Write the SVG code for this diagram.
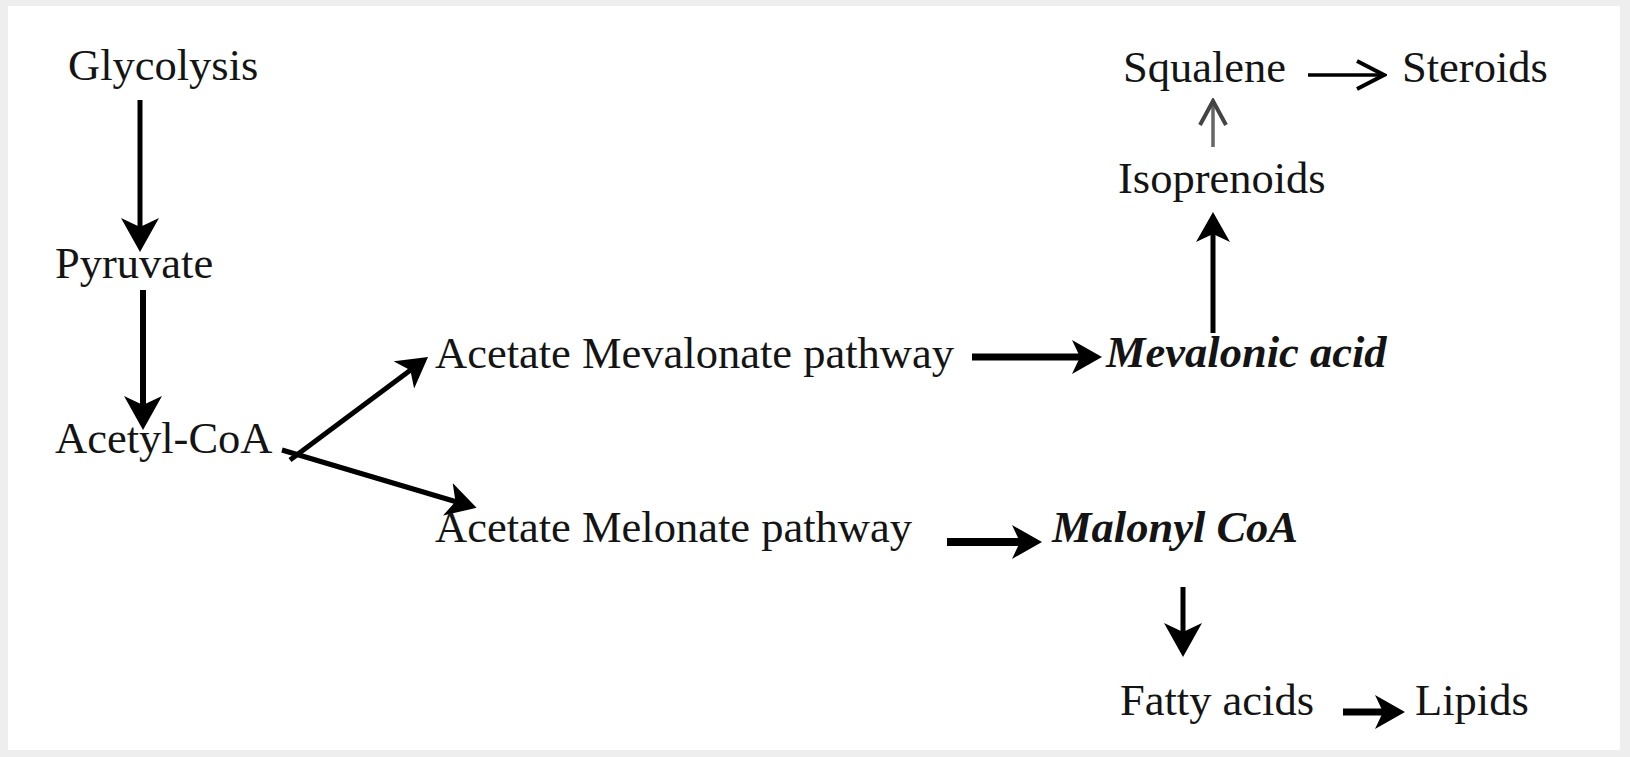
<svg xmlns="http://www.w3.org/2000/svg" width="1630" height="757" viewBox="0 0 1630 757">
<style>
.t{font-family:"Liberation Serif","Times New Roman",serif;font-size:44.5px;fill:#141414}
.bi{font-weight:bold;font-style:italic}
.c{stroke:#000;fill:none;stroke-linecap:butt}
</style>
<defs>
<marker id="hf" markerUnits="userSpaceOnUse" viewBox="0 0 30 34" markerWidth="30" markerHeight="34" refX="20" refY="17" orient="auto">
<path d="M0,0 L30,17 L0,34 L8,17 z" fill="#000"/>
</marker>
<marker id="hb" markerUnits="userSpaceOnUse" viewBox="0 0 34 38" markerWidth="34" markerHeight="38" refX="22" refY="19" orient="auto">
<path d="M0,0 L34,19 L0,38 L9,19 z" fill="#000"/>
</marker>
<marker id="ho" markerUnits="userSpaceOnUse" viewBox="0 0 32 34" markerWidth="32" markerHeight="34" refX="28" refY="17" orient="auto">
<path d="M2,3 L29,17 L2,31" fill="none" stroke="#000" stroke-width="4"/>
</marker>
<marker id="hg" markerUnits="userSpaceOnUse" viewBox="0 0 30 30" markerWidth="30" markerHeight="30" refX="26" refY="15" orient="auto">
<path d="M3,2 L27,15 L3,28" fill="none" stroke="#444" stroke-width="4"/>
</marker>
</defs>
<rect x="0" y="0" width="1630" height="757" fill="#eeeeee"/>
<rect x="8" y="6" width="1612" height="744" fill="#ffffff"/>
<g id="connectors">
<line class="c" x1="140" y1="100" x2="140" y2="240" stroke-width="5" marker-end="url(#hb)"/>
<line class="c" x1="143" y1="290" x2="143" y2="418" stroke-width="6" marker-end="url(#hb)"/>
<line class="c" x1="290" y1="460" x2="420" y2="363" stroke-width="5" marker-end="url(#hf)"/>
<line class="c" x1="282" y1="450" x2="467" y2="505" stroke-width="5" marker-end="url(#hf)"/>
<line class="c" x1="972" y1="357" x2="1092" y2="357" stroke-width="7" marker-end="url(#hf)"/>
<line class="c" x1="947" y1="542" x2="1032" y2="542" stroke-width="8" marker-end="url(#hf)"/>
<line class="c" x1="1213" y1="333" x2="1213" y2="222" stroke-width="5" marker-end="url(#hf)"/>
<line x1="1213" y1="147" x2="1213" y2="102" stroke="#666" stroke-width="3.5" marker-end="url(#hg)"/>
<line class="c" x1="1308" y1="75" x2="1383" y2="75" stroke-width="3.5" marker-end="url(#ho)"/>
<line class="c" x1="1183" y1="587" x2="1183" y2="645" stroke-width="5" marker-end="url(#hb)"/>
<line class="c" x1="1343" y1="712" x2="1395" y2="712" stroke-width="7" marker-end="url(#hf)"/>
</g>
<g id="glycolysis"><text class="t" x="68" y="80">Glycolysis</text></g>
<g id="pyruvate"><text class="t" x="55" y="278">Pyruvate</text></g>
<g id="acetylcoa"><text class="t" x="55" y="453">Acetyl-CoA</text></g>
<g id="mevalonate-pathway"><text class="t" x="435" y="368">Acetate Mevalonate pathway</text></g>
<g id="melonate-pathway"><text class="t" x="435" y="542">Acetate Melonate pathway</text></g>
<g id="mevalonic-acid"><text class="t bi" x="1106" y="367">Mevalonic acid</text></g>
<g id="malonyl-coa"><text class="t bi" x="1052" y="542">Malonyl CoA</text></g>
<g id="isoprenoids"><text class="t" x="1118" y="193">Isoprenoids</text></g>
<g id="squalene"><text class="t" x="1123" y="82">Squalene</text></g>
<g id="steroids"><text class="t" x="1402" y="82">Steroids</text></g>
<g id="fatty-acids"><text class="t" x="1120" y="715">Fatty acids</text></g>
<g id="lipids"><text class="t" x="1415" y="715">Lipids</text></g>
</svg>
